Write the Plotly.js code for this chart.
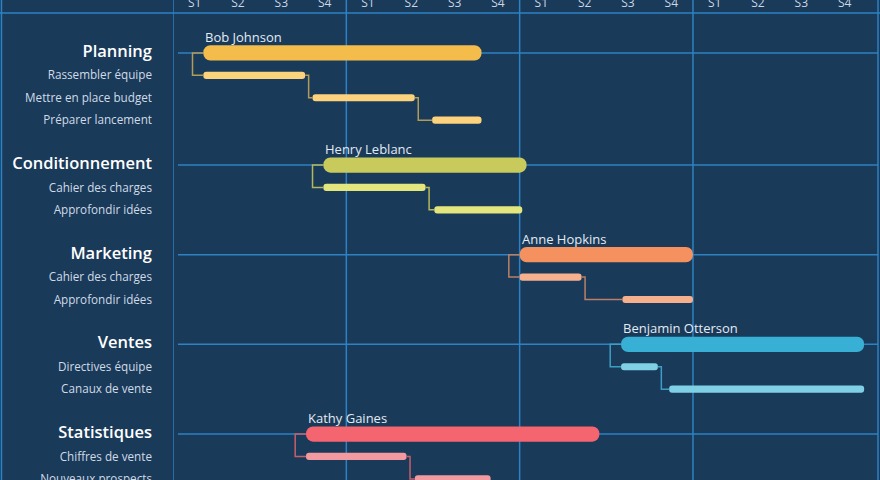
<!DOCTYPE html>
<html>
<head>
<meta charset="utf-8">
<script src="https://cdn.plot.ly/plotly-3.0.1.min.js"></script>
<style>
  html, body { margin: 0; padding: 0; background: #1a3a5a; }
  #chart { width: 880px; height: 480px; }
</style>
</head>
<body>
<div id="chart"></div>
<script>
// ---------- data (weeks from the start of the timeline) ----------
const groups = ['Planning', 'Conditionnement', 'Marketing', 'Ventes', 'Statistiques'];
const owners = ['Bob Johnson', 'Henry Leblanc', 'Anne Hopkins', 'Benjamin Otterson', 'Kathy Gaines'];
const groupStart = [0.70, 3.47, 8.00, 10.34, 3.07];
const groupEnd   = [7.12, 8.16, 12.00, 15.95, 9.84];
const subNames = [
  ['Rassembler équipe', 'Mettre en place budget', 'Préparer lancement'],
  ['Cahier des charges', 'Approfondir idées'],
  ['Cahier des charges', 'Approfondir idées'],
  ['Directives équipe', 'Canaux de vente'],
  ['Chiffres de vente', 'Nouveaux prospects']
];
const subStart = [[0.70, 3.22, 5.98], [3.47, 6.03], [8.00, 10.37], [10.34, 11.45], [3.07, 5.58]];
const subEnd   = [[3.05, 5.58, 7.12], [5.83, 8.06], [9.43, 12.00], [11.19, 15.95], [5.39, 7.33]];
const weekLabels = ['S1', 'S2', 'S3', 'S4'];
const monthCount = 4;

// ---------- styles ----------
const mainColors = ['#f3bc4b', '#c8cb5c', '#f4915f', '#38afd5', '#f4656f'];
const subColors  = ['#fcd27c', '#e3e67c', '#f7b08e', '#7fd0e4', '#f39aa1'];
const linkColors = ['#b19c57', '#b5b85a', '#b98068', '#3d9ec4', '#c65f6b'];
const BG = '#1a3a5a';
const GRID = '#2d82c4';
const FONT = '"Open Sans", "Noto Sans", sans-serif';
const LINK_OFFSET = 0.25;   // weeks left of a group bar for the first connector
const STEP_OFFSET = 0.08;   // weeks right of a task end for the next connector

// ---------- rows ----------
const traces = [];
const tickVals = [], tickText = [];
const groupRows = [];
const annotations = [];
let row = 0;

function bars(starts, ends, rows, color, width) {
  // drawn from the end back to the start
  traces.push({
    type: 'bar', orientation: 'h', y: rows, base: ends,
    x: starts.map((s, i) => s - ends[i]), width: width,
    marker: { color: color, cornerradius: '50%', line: { width: 0 } },
    hoverinfo: 'skip', showlegend: false
  });
}

groups.forEach((g, gi) => {
  const gRow = row;
  groupRows.push(gRow);
  tickVals.push(gRow);
  tickText.push('<span style="font-size:16.5px;font-weight:600;fill:#ffffff">' + g + '</span>');
  const sRows = subNames[gi].map((n, k) => gRow + 1 + k);
  subNames[gi].forEach((n, k) => { tickVals.push(sRows[k]); tickText.push(n); });

  // connectors
  const cx = [], cy = [];
  const s0 = groupStart[gi];
  cx.push(s0, s0 - LINK_OFFSET, s0 - LINK_OFFSET, subStart[gi][0]);
  cy.push(gRow, gRow, sRows[0], sRows[0]);
  for (let k = 1; k < sRows.length; k++) {
    const e = subEnd[gi][k - 1];
    cx.push(null, e, e + STEP_OFFSET, e + STEP_OFFSET, subStart[gi][k]);
    cy.push(null, sRows[k - 1], sRows[k - 1], sRows[k], sRows[k]);
  }
  traces.push({
    type: 'scatter', mode: 'lines', x: cx, y: cy, connectgaps: false,
    line: { color: linkColors[gi], width: 1.5 }, hoverinfo: 'skip', showlegend: false
  });

  bars([groupStart[gi]], [groupEnd[gi]], [gRow], mainColors[gi], 0.68);
  bars(subStart[gi], subEnd[gi], sRows, subColors[gi], 0.32);

  annotations.push({
    x: groupStart[gi], y: gRow, xref: 'x', yref: 'y', text: owners[gi],
    xanchor: 'left', yanchor: 'middle', xshift: 0, yshift: 16, showarrow: false,
    font: { family: FONT, size: 13, color: '#e3ebf3' }
  });
  row = gRow + subNames[gi].length + 2;
});

// week ticks
const xTickVals = [], xTickText = [];
for (let m = 0; m < monthCount; m++) {
  weekLabels.forEach((w, i) => { xTickVals.push(m * weekLabels.length + i + 0.5); xTickText.push(w); });
}

// ---------- grid shapes ----------
const shapes = [];
const monthEdges = [];
for (let m = 0; m < monthCount; m++) monthEdges.push(m * weekLabels.length);
const lineStyle = { color: GRID, width: 1.5 };
monthEdges.forEach(v => shapes.push({ type: 'line', xref: 'x', yref: 'paper', x0: v, x1: v, y0: 0, y1: 1.05, line: lineStyle, layer: 'below' }));
groupRows.forEach(r => shapes.push({ type: 'line', xref: 'paper', yref: 'y', x0: 0.007, x1: 1, y0: r, y1: r, line: lineStyle, layer: 'below' }));
shapes.push({ type: 'line', xref: 'paper', yref: 'paper', x0: -0.2454, x1: 1.01, y0: 1, y1: 1, line: lineStyle });
shapes.push({ type: 'line', xref: 'paper', yref: 'paper', x0: -0.2433, x1: -0.2433, y0: 0, y1: 1.05, line: lineStyle });
shapes.push({ type: 'line', xref: 'paper', yref: 'paper', x0: 1, x1: 1, y0: 0, y1: 1.05, line: lineStyle });

const layout = {
  width: 880, height: 480,
  margin: { l: 173, r: 2, t: 13, b: 0 },
  paper_bgcolor: BG, plot_bgcolor: BG,
  barmode: 'overlay',
  showlegend: false,
  font: { family: FONT, color: '#cbd7e3', size: 12 },
  xaxis: {
    side: 'top', range: [0, 16.27], tickvals: xTickVals, ticktext: xTickText,
    showgrid: false, zeroline: false, showline: false, ticks: '',
    ticklabelstandoff: 3, ticklabeloverflow: 'allow',
    tickfont: { size: 12, color: '#cbd7e3' }, fixedrange: true, automargin: false
  },
  yaxis: {
    range: [19.05, -1.78], tickvals: tickVals, ticktext: tickText,
    showgrid: false, zeroline: false, showline: false, ticks: '',
    ticklabelstandoff: 20, ticklabeloverflow: 'allow',
    tickfont: { size: 11.7, color: '#d0dbe6' }, fixedrange: true, automargin: false
  },
  shapes: shapes,
  annotations: annotations
};

Plotly.newPlot('chart', traces, layout, { displayModeBar: false, staticPlot: true });
</script>
</body>
</html>
